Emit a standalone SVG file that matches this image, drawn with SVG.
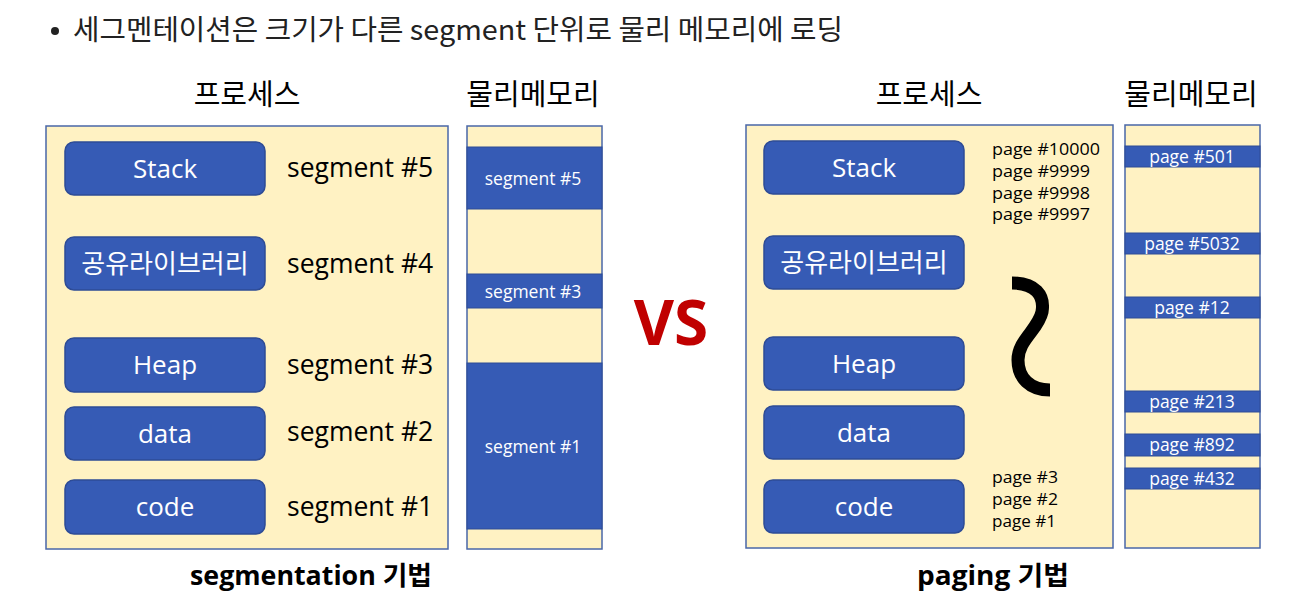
<svg xmlns="http://www.w3.org/2000/svg" width="1306" height="606" viewBox="0 0 1306 606">
<style>
.bg{fill:#FFF2C3;stroke:#4A67A8;stroke-width:1.5}
.blk{fill:#365BB5;stroke:#2E4C96;stroke-width:1.5}
.mem{fill:#365BB5;stroke:#2E4C96;stroke-width:1}
.bt{font-family:"Open Sans","Noto Sans CJK KR",sans-serif;font-size:26px;fill:#fff;text-anchor:middle}
.kb{font-family:"Noto Sans CJK KR","Open Sans",sans-serif;font-size:26px;fill:#fff;text-anchor:middle}
.sl{font-family:"Open Sans","Noto Sans CJK KR",sans-serif;font-size:26.5px;fill:#000}
.ml{font-family:"Open Sans","Noto Sans CJK KR",sans-serif;font-size:17.5px;fill:#fff;text-anchor:middle}
.pl{font-family:"Open Sans","Noto Sans CJK KR",sans-serif;font-size:17.5px;fill:#fff;text-anchor:middle}
.pg{font-family:"Open Sans","Noto Sans CJK KR",sans-serif;font-size:16px;fill:#000}
.hd{font-family:"Noto Sans CJK KR",sans-serif;font-size:29px;fill:#000;text-anchor:middle}
.cap{font-family:"Open Sans","Noto Sans CJK KR",sans-serif;font-size:26px;font-weight:bold;fill:#000;text-anchor:middle}
</style>
<g id="title">
<circle cx="55" cy="31" r="4" fill="#222"/>
<text x="73" y="40" font-family="Noto Sans CJK KR,sans-serif" font-size="28" fill="#222" textLength="770" lengthAdjust="spacingAndGlyphs">세그멘테이션은 크기가 다른 segment 단위로 물리 메모리에 로딩</text>
</g>
<g id="seg-process">
<text class="hd" x="247" y="105">프로세스</text>
<rect class="bg" x="46" y="126" width="402" height="423"/>
</g>
<g id="seg-stack"><rect class="blk" x="65" y="142" width="200" height="53" rx="9"/><text class="bt" x="165" y="178">Stack</text><text class="sl" x="287" y="177">segment #5</text></g>
<g id="seg-lib"><rect class="blk" x="65" y="237" width="200" height="53" rx="9"/><text class="kb" x="165" y="273">공유라이브러리</text><text class="sl" x="287" y="273">segment #4</text></g>
<g id="seg-heap"><rect class="blk" x="65" y="338" width="200" height="54" rx="9"/><text class="bt" x="165" y="374">Heap</text><text class="sl" x="287" y="374">segment #3</text></g>
<g id="seg-data"><rect class="blk" x="65" y="407" width="200" height="53" rx="9"/><text class="bt" x="165" y="443">data</text><text class="sl" x="287" y="441">segment #2</text></g>
<g id="seg-code"><rect class="blk" x="65" y="480" width="200" height="54" rx="9"/><text class="bt" x="165" y="516">code</text><text class="sl" x="287" y="516">segment #1</text></g>
<g id="seg-memory">
<text class="hd" x="533" y="105">물리메모리</text>
<rect class="bg" x="467" y="126" width="135" height="423"/>
<rect class="mem" x="467" y="147" width="135" height="62"/><text class="ml" x="533" y="185">segment #5</text>
<rect class="mem" x="467" y="274" width="135" height="34"/><text class="ml" x="533" y="298">segment #3</text>
<rect class="mem" x="467" y="363" width="135" height="166"/><text class="ml" x="533" y="453">segment #1</text>
</g>
<text class="cap" x="311" y="585" textLength="242" lengthAdjust="spacingAndGlyphs">segmentation 기법</text>
<text x="671" y="345" font-family="Open Sans,sans-serif" font-size="62" font-weight="bold" fill="#C00000" text-anchor="middle">VS</text>
<g id="pg-process">
<text class="hd" x="929" y="105">프로세스</text>
<rect class="bg" x="746" y="125" width="367" height="423"/>
<path d="M1012,283 C1035,283 1045,295 1042,312 C1038,330 1018,340 1018,360 C1018,378 1030,390 1050,390" fill="none" stroke="#000" stroke-width="13"/>
<text class="pg" x="992" y="155" textLength="108" lengthAdjust="spacingAndGlyphs">page #10000</text>
<text class="pg" x="992" y="177" textLength="98" lengthAdjust="spacingAndGlyphs">page #9999</text>
<text class="pg" x="992" y="199" textLength="98" lengthAdjust="spacingAndGlyphs">page #9998</text>
<text class="pg" x="992" y="220" textLength="98" lengthAdjust="spacingAndGlyphs">page #9997</text>
<text class="pg" x="992" y="483" textLength="66" lengthAdjust="spacingAndGlyphs">page #3</text>
<text class="pg" x="992" y="505" textLength="66" lengthAdjust="spacingAndGlyphs">page #2</text>
<text class="pg" x="992" y="527" textLength="64" lengthAdjust="spacingAndGlyphs">page #1</text>
</g>
<g id="pg-stack"><rect class="blk" x="764" y="141" width="200" height="53" rx="9"/><text class="bt" x="864" y="177">Stack</text></g>
<g id="pg-lib"><rect class="blk" x="764" y="236" width="200" height="53" rx="9"/><text class="kb" x="864" y="272">공유라이브러리</text></g>
<g id="pg-heap"><rect class="blk" x="764" y="337" width="200" height="53" rx="9"/><text class="bt" x="864" y="373">Heap</text></g>
<g id="pg-data"><rect class="blk" x="764" y="406" width="200" height="53" rx="9"/><text class="bt" x="864" y="442">data</text></g>
<g id="pg-code"><rect class="blk" x="764" y="480" width="200" height="53" rx="9"/><text class="bt" x="864" y="516">code</text></g>
<g id="pg-memory">
<text class="hd" x="1191" y="105">물리메모리</text>
<rect class="bg" x="1125" y="125" width="135" height="423"/>
<rect class="mem" x="1125" y="146" width="135" height="21"/><text class="pl" x="1192" y="163">page #501</text>
<rect class="mem" x="1125" y="233" width="135" height="21"/><text class="pl" x="1192" y="250">page #5032</text>
<rect class="mem" x="1125" y="297" width="135" height="21"/><text class="pl" x="1192" y="314">page #12</text>
<rect class="mem" x="1125" y="391" width="135" height="21"/><text class="pl" x="1192" y="408">page #213</text>
<rect class="mem" x="1125" y="434" width="135" height="22"/><text class="pl" x="1192" y="451">page #892</text>
<rect class="mem" x="1125" y="468" width="135" height="21"/><text class="pl" x="1192" y="485">page #432</text>
</g>
<text class="cap" x="993" y="585" textLength="152" lengthAdjust="spacingAndGlyphs">paging 기법</text>
</svg>
